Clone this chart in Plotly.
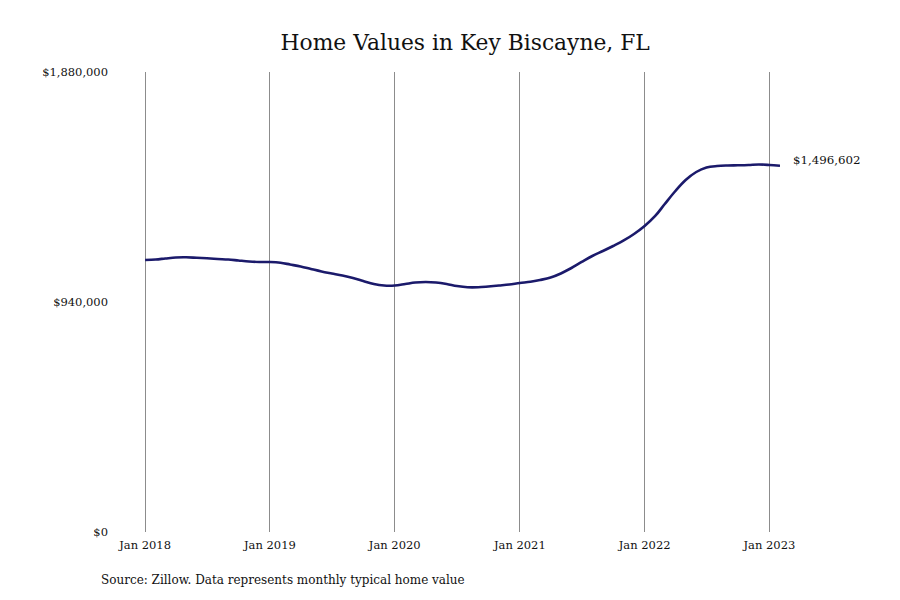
"""
Valores de vivienda en Key Biscayne, FL (Zillow, valor t칤pico mensual).
"""

import pandas as pd
import plotly.graph_objects as go


# Meses desde enero 2018 hasta febrero 2023.
meses = pd.date_range("2018-01-01", "2023-02-01", freq="MS")

valores = [
    1111700, 1113700, 1117800, 1121900, 1122700, 1120600,
    1118600, 1115800, 1113700, 1109600, 1105600, 1103500,
    1103500, 1100600, 1093300, 1085100, 1074900, 1064700,
    1056500, 1048300, 1038100, 1025800, 1013600, 1007400,
    1007400, 1013600, 1019700, 1021800, 1019700, 1013600,
    1005400, 1000100, 1000100, 1003300, 1007400, 1011500,
    1017700, 1022600, 1029900, 1040100, 1056500, 1079000,
    1103500, 1128000, 1148400, 1168900, 1191400, 1217900,
    1250600, 1291500, 1340500, 1393700, 1438600, 1471300,
    1489700, 1495800, 1497900, 1498700, 1499900, 1502000,
    1499900, 1496602,
]

y_ticks = [0, 940000, 1880000]
y_labels = ["$0", "$940,000", "$1,880,000"]

x_ticks = ["2018-01-01", "2019-01-01", "2020-01-01",
           "2021-01-01", "2022-01-01", "2023-01-01"]
x_labels = ["Jan 2018", "Jan 2019", "Jan 2020",
            "Jan 2021", "Jan 2022", "Jan 2023"]


def plot_valores():

    fig = go.Figure()

    fig.add_trace(
        go.Scatter(
            x=meses,
            y=valores,
            mode="lines",
            line_color="#1b1a6b",
            line_width=2.6,
            line_shape="spline",
            hoverinfo="skip",
        )
    )

    # Empezamos unos d칤as antes para que se dibuje la l칤nea de enero 2018.
    fig.update_xaxes(
        range=["2017-12-20", "2023-02-01"],
        tickvals=x_ticks,
        ticktext=x_labels,
        showgrid=True,
        gridcolor="#8c8c8c",
        gridwidth=1,
        zeroline=False,
        showline=False,
        ticks="",
        ticklabelstandoff=4,
    )

    fig.update_yaxes(
        range=[0, 1880000],
        tickvals=y_ticks,
        ticktext=y_labels,
        showgrid=False,
        zeroline=False,
        showline=False,
        ticks="",
        ticklabelstandoff=32,
    )

    fig.update_layout(
        width=900,
        height=600,
        showlegend=False,
        font_family="DejaVu Serif",
        font_color="#111111",
        font_size=11.5,
        title_text="Home Values in Key Biscayne, FL",
        title_font_size=21.8,
        title_x=0.508,
        title_xanchor="center",
        title_y=0.942,
        title_yanchor="middle",
        plot_bgcolor="#FFFFFF",
        paper_bgcolor="#FFFFFF",
        margin_t=64,
        margin_b=76,
        margin_l=133,
        margin_r=128,
        annotations=[
            dict(
                x=meses[-1],
                y=valores[-1],
                xref="x",
                yref="y",
                xanchor="left",
                yanchor="middle",
                xshift=11,
                yshift=6,
                showarrow=False,
                font_size=11.8,
                text=f"${valores[-1]:,.0f}",
            ),
            dict(
                x=-0.0657,
                y=-0.104,
                xref="paper",
                yref="paper",
                xanchor="left",
                yanchor="middle",
                showarrow=False,
                font_size=12,
                text="Source: Zillow. Data represents monthly typical home value",
            ),
        ],
    )

    fig.write_html("out.html")


if __name__ == "__main__":

    plot_valores()
